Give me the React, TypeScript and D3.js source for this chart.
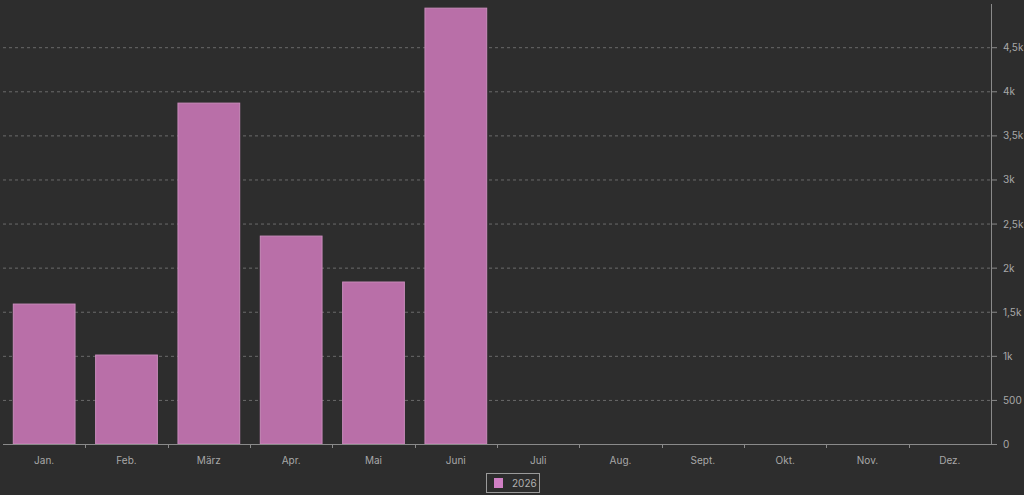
import React, { useRef, useEffect } from "react";
import * as d3 from "d3";

const months = ["Jan.", "Feb.", "März", "Apr.", "Mai", "Juni", "Juli", "Aug.", "Sept.", "Okt.", "Nov.", "Dez."];
const values2026 = [1587, 1009, 3866, 2358, 1837, 4943, 0, 0, 0, 0, 0, 0];
const yTicks = [0, 500, 1000, 1500, 2000, 2500, 3000, 3500, 4000, 4500];
const yTickLabels = ["0", "500", "1k", "1,5k", "2k", "2,5k", "3k", "3,5k", "4k", "4,5k"];
const seriesName = "2026";

const W = 1024;
const H = 495;

const App: React.FC = () => {
  const svgRef = useRef(null);

  useEffect(() => {
    if (!svgRef.current) return;
    const svg = d3.select(svgRef.current);
    svg.selectAll("*").remove();

    const left = 3;
    const right = 991;
    const top = 4;
    const bottom = 444;

    const x = d3
      .scaleBand()
      .domain(months)
      .range([left, right])
      .paddingInner(0.25)
      .paddingOuter(0.125);
    const y = d3.scaleLinear().domain([0, 4990]).range([bottom, top]);

    svg.append("rect").attr("width", W).attr("height", H).attr("fill", "#2d2d2d");

    // grid
    svg
      .selectAll(".grid")
      .data(yTicks.slice(1))
      .enter()
      .append("line")
      .attr("x1", left)
      .attr("x2", right)
      .attr("y1", (d) => y(d) + 0.5)
      .attr("y2", (d) => y(d) + 0.5)
      .attr("stroke", "#6a6a6a")
      .attr("stroke-dasharray", "3,3")
      .attr("stroke-width", 1);

    // bars
    svg
      .selectAll(".bar")
      .data(values2026)
      .enter()
      .append("rect")
      .attr("x", (_, i) => x(months[i])!)
      .attr("y", (d) => y(d))
      .attr("width", x.bandwidth())
      .attr("height", (d) => bottom - y(d))
      .attr("fill", "#b96fa8")
      .attr("stroke", (d) => (d > 0 ? "#c98bbb" : "none"))
      .attr("stroke-width", 1);

    // bottom axis
    svg
      .append("line")
      .attr("x1", left)
      .attr("x2", right)
      .attr("y1", bottom + 0.5)
      .attr("y2", bottom + 0.5)
      .attr("stroke", "#8a8a8a");
    const step = x.step();
    const boundaries = months.slice(1).map((m) => x(m)! - (step - x.bandwidth()) / 2);
    svg
      .selectAll(".xtick")
      .data(boundaries)
      .enter()
      .append("line")
      .attr("x1", (d) => Math.round(d) + 0.5)
      .attr("x2", (d) => Math.round(d) + 0.5)
      .attr("y1", bottom)
      .attr("y2", bottom + 4)
      .attr("stroke", "#8a8a8a");
    svg
      .selectAll(".xlabel")
      .data(months)
      .enter()
      .append("text")
      .attr("x", (d) => x(d)! + x.bandwidth() / 2)
      .attr("y", 464)
      .attr("text-anchor", "middle")
      .attr("fill", "#a8a8a8")
      .attr("font-family", "Inter, 'DejaVu Sans', sans-serif")
      .attr("font-size", 10)
      .text((d) => d);

    // right axis
    svg
      .append("line")
      .attr("x1", right + 0.5)
      .attr("x2", right + 0.5)
      .attr("y1", top)
      .attr("y2", bottom + 1)
      .attr("stroke", "#8a8a8a");
    svg
      .selectAll(".ytick")
      .data(yTicks)
      .enter()
      .append("line")
      .attr("x1", right)
      .attr("x2", right + 6)
      .attr("y1", (d) => y(d) + 0.5)
      .attr("y2", (d) => y(d) + 0.5)
      .attr("stroke", "#8a8a8a");
    svg
      .selectAll(".ylabel")
      .data(yTicks)
      .enter()
      .append("text")
      .attr("x", 1003)
      .attr("y", (d) => y(d) + 4)
      .attr("fill", "#a8a8a8")
      .attr("font-family", "Inter, 'DejaVu Sans', sans-serif")
      .attr("font-size", 10)
      .text((_, i) => yTickLabels[i]);

    // legend
    const lg = svg.append("g");
    lg.append("rect")
      .attr("x", 486.5)
      .attr("y", 473.5)
      .attr("width", 53)
      .attr("height", 19)
      .attr("fill", "none")
      .attr("stroke", "#9a9a9a");
    lg.append("rect")
      .attr("x", 494)
      .attr("y", 478)
      .attr("width", 9)
      .attr("height", 10)
      .attr("fill", "#d07fc4");
    lg.append("text")
      .attr("x", 512)
      .attr("y", 487)
      .attr("fill", "#b0b0b0")
      .attr("font-family", "Inter, 'DejaVu Sans', sans-serif")
      .attr("font-size", 10)
      .text(seriesName);
  }, []);

  return (
    <svg
      ref={svgRef}
      width={W}
      height={H}
      style={{ position: "absolute", left: 0, top: 0, display: "block" }}
    ></svg>
  );
};

export default App;
